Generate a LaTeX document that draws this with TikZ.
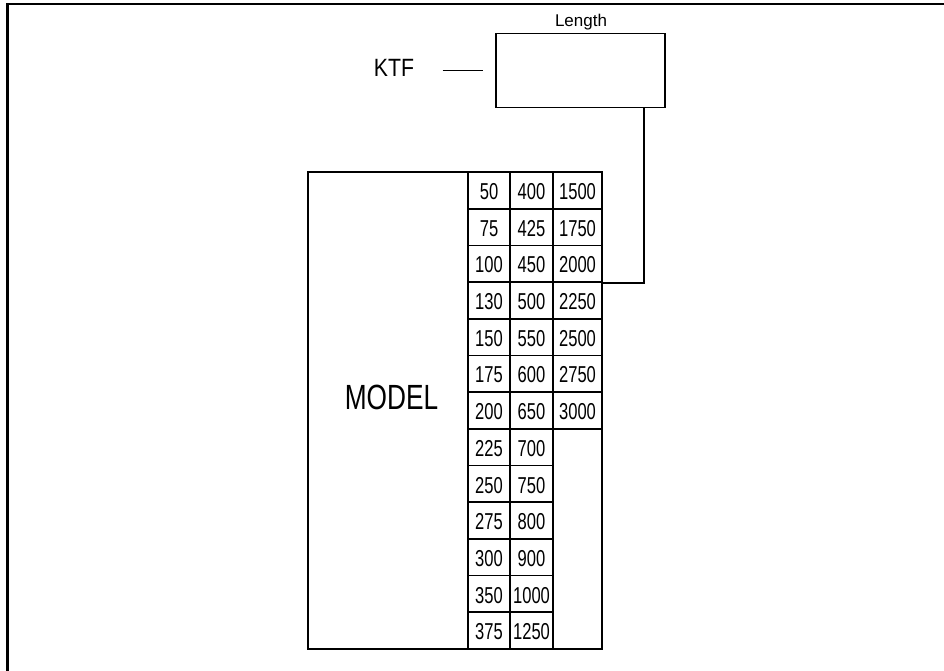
\documentclass[tikz,border=0pt]{standalone}
\usepackage{fontspec}
\setmainfont{Liberation Sans}
\newfontfamily\numfont[FakeStretch=0.72]{Liberation Sans}
\newfontfamily\modfont[FakeStretch=0.75]{Liberation Sans}
\newfontfamily\ktffont[FakeStretch=0.85]{Liberation Sans}
\begin{document}
\begin{tikzpicture}[x=1pt,y=-1pt,
  frame/.style={line width=2.5pt},
  boxline/.style={draw, line width=1.7pt},
  cell/.style={boxline, minimum height=36.69pt, inner sep=0pt,
    text height=18.3pt, text depth=0pt,
    font=\numfont\fontsize{23}{23}\selectfont},
  conn/.style={line width=1.7pt}]
\useasboundingbox (0,0) rectangle (944,671);
\draw[frame] (7.5,4) rectangle (960,690);
% Length box
\node[boxline, minimum width=169pt, minimum height=74pt, inner sep=0pt] (lenbox) at (580.5,70.5) {};
\node[anchor=base, inner sep=0pt, font=\fontsize{17}{17}\selectfont] (lenlabel) at (581,27) {Length};
\node[anchor=base, inner sep=0pt, font=\ktffont\fontsize{25}{25}\selectfont] (ktf) at (394,76.7) {KTF};
\coordinate (dashA) at (442.5,70.5);
\coordinate (dashB) at (483,70.5);
\draw[conn] (dashA) -- (dashB);
% model box
\node[boxline, minimum width=294pt, minimum height=477pt, inner sep=0pt] (model) at (455,410.5) {};
\node[anchor=base, inner sep=0pt, font=\modfont\fontsize{35}{35}\selectfont] (modeltext) at (391.5,409.3) {MODEL};
% columns
\foreach \v [count=\i] in {50,75,100,130,150,175,200,225,250,275,300,350,375}
  \node[cell, minimum width=42pt] (a\i) at (489,{172+36.69*(\i-0.5)}) {\v};
\foreach \v [count=\i] in {400,425,450,500,550,600,650,700,750,800,900,1000,1250}
  \node[cell, minimum width=43pt] (b\i) at (531.5,{172+36.69*(\i-0.5)}) {\v};
\foreach \v [count=\i] in {1500,1750,2000,2250,2500,2750,3000}
  \node[cell, minimum width=49pt] (c\i) at (577.5,{172+36.69*(\i-0.5)}) {\v};
\node[boxline, minimum width=49pt, minimum height=220.2pt, inner sep=0pt] (c8) at (577.5,538.9) {};
% connector
\draw[conn] ([xshift=-22pt]lenbox.south east) |- (c3.south east);
\end{tikzpicture}
\end{document}
